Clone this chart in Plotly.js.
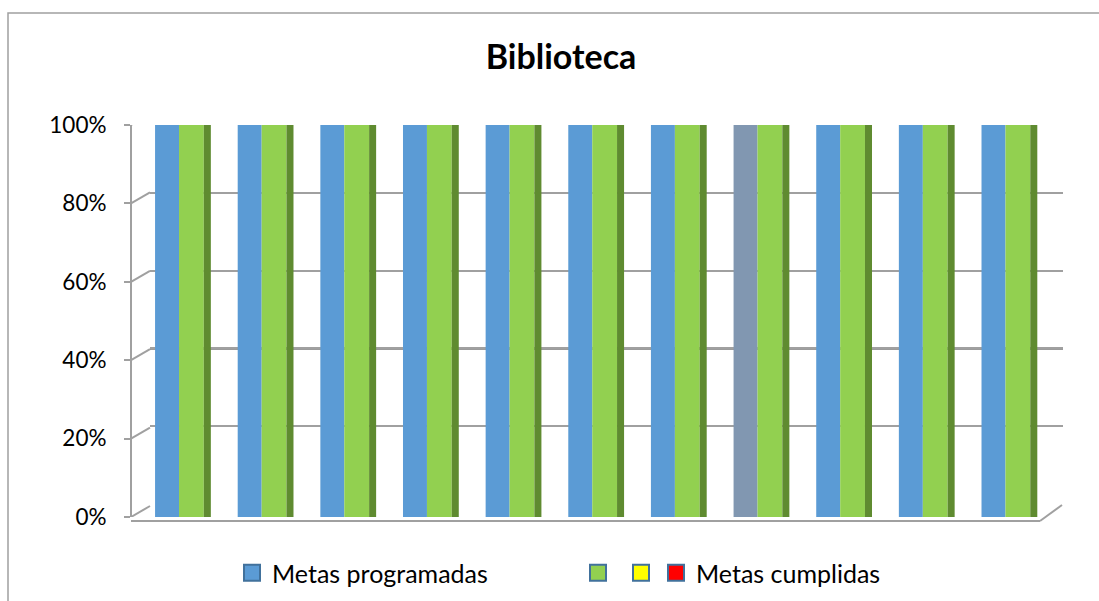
<!DOCTYPE html>
<html>
<head>
<meta charset="utf-8">
<script src="https://cdn.plot.ly/plotly-3.0.1.min.js"></script>
<style>html,body{margin:0;padding:0;background:#fff;}#chart{width:1099px;height:601px;}</style>
</head>
<body>
<div id="chart"></div>
<script>
// ---- data ----
const categories = ['1','2','3','4','5','6','7','8','9','10','11'];
const metasProgramadas = [1,1,1,1,1,1,1,1,1,1,1];
const metasCumplidas = [1,1,1,1,1,1,1,1,1,1,1];
const programadasColors = ['#5b9bd5','#5b9bd5','#5b9bd5','#5b9bd5','#5b9bd5','#5b9bd5','#5b9bd5','#8197b1','#5b9bd5','#5b9bd5','#5b9bd5'];
const yTickVals = [0, 0.2, 0.4, 0.6, 0.8, 1];
const yTickText = ['0%','20%','40%','60%','80%','100%'];
const legendNames = ['Metas programadas', '', '', 'Metas cumplidas'];
const legendColors = ['#5b9bd5', '#92d050', '#ffff00', '#ff0000'];
const legendIds = ['legend', 'legend2', 'legend3', 'legend4'];
const legendLeft = [232, 578, 621, 656];

// ---- layout helpers (pixel -> paper) ----
const W = 1099, H = 601;
const px = x => x / W;
const py = y => 1 - y / H;
const GRID = '#a0a0a0';
const FONT = 'Lato, "Open Sans", sans-serif';

const traces = [
  {type:'bar', x:categories, y:metasProgramadas, xaxis:'x2', yaxis:'y2',
   marker:{color:programadasColors}, offset:-0.29, width:0.29, showlegend:false, hoverinfo:'y'},
  {type:'bar', x:categories, y:metasCumplidas, xaxis:'x2', yaxis:'y2',
   marker:{color:'#92d050'}, offset:0, width:0.30, showlegend:false, hoverinfo:'y'},
  {type:'bar', x:categories, y:metasCumplidas, xaxis:'x2', yaxis:'y2',
   marker:{color:'#5f8b30'}, offset:0.30, width:0.085, showlegend:false, hoverinfo:'skip'}
];
legendNames.forEach((n, i) => {
  traces.push({type:'scatter', mode:'markers', x:[null], y:[null], xaxis:'x', yaxis:'y',
    name:n, legend:legendIds[i], showlegend:true,
    marker:{symbol:'square', size:16, color:legendColors[i], line:{color:'#41719c', width:2}}});
});

const shapes = [
  {type:'rect', xref:'paper', yref:'paper', x0:px(8), x1:px(1120), y0:py(13), y1:py(640),
   line:{color:'#a0a0a0', width:1.5}, layer:'below'},
  {type:'line', xref:'paper', yref:'paper', x0:px(131), x1:px(1040), y0:py(521), y1:py(521),
   line:{color:GRID, width:2}},
  {type:'line', xref:'paper', yref:'paper', x0:px(1040), x1:px(1062), y0:py(521), y1:py(505),
   line:{color:GRID, width:2}},
  // the 40% back-wall line is drawn darker in the reference
  {type:'line', xref:'x', yref:'y', x0:0, x1:1, y0:yTickVals[2], y1:yTickVals[2],
   line:{color:'#7a7a7a', width:2.5}, layer:'below'}
];
yTickVals.forEach(v => {
  shapes.push({type:'line', xref:'paper', yref:'y2', ysizemode:'pixel', yanchor:v,
    x0:px(131), x1:px(150), y0:0, y1:11, line:{color:GRID, width:2}, layer:'below'});
});

const legendBase = {orientation:'h', xanchor:'left', yanchor:'middle', y:py(573),
  bgcolor:'rgba(0,0,0,0)', font:{family:FONT, size:25, color:'#000'}, itemclick:false, itemdoubleclick:false};
const layout = {
  width:W, height:H, margin:{l:0, r:0, t:0, b:0},
  paper_bgcolor:'#fff', plot_bgcolor:'rgba(0,0,0,0)',
  barmode:'overlay',
  title:{text:'<b>Biblioteca</b>', x:px(561), xanchor:'center', xref:'container',
         y:py(57), yanchor:'middle', yref:'container', font:{family:FONT, size:34, color:'#000'}},
  xaxis:{domain:[px(150), px(1063)], range:[0,1], showgrid:false, zeroline:false,
         showticklabels:false, ticks:'', showline:false, fixedrange:true},
  yaxis:{domain:[py(505), py(114)], range:[-0.002, 1.002], tickvals:yTickVals, showticklabels:false,
         ticks:'', showgrid:true, gridcolor:GRID, gridwidth:2, zeroline:false,
         showline:false, fixedrange:true},
  xaxis2:{domain:[px(137.7), px(1046.8)], anchor:'y2', type:'category', range:[-0.5, 10.5],
          showticklabels:false, showgrid:false, zeroline:false, showline:false, ticks:'', fixedrange:true},
  yaxis2:{domain:[py(517), py(125)], anchor:'free', position:px(131), range:[0,1],
          tickvals:yTickVals, ticktext:yTickText, ticks:'outside', ticklen:6, tickwidth:2, tickcolor:GRID,
          showline:true, linecolor:GRID, linewidth:2, showgrid:false, zeroline:false,
          ticklabelstandoff:13, tickfont:{family:FONT, size:22.5, color:'#000'}, fixedrange:true},
  shapes:shapes,
  legend: Object.assign({}, legendBase, {x:px(legendLeft[0])}),
  legend2: Object.assign({}, legendBase, {x:px(legendLeft[1])}),
  legend3: Object.assign({}, legendBase, {x:px(legendLeft[2])}),
  legend4: Object.assign({}, legendBase, {x:px(legendLeft[3])}),
  showlegend:true
};
Plotly.newPlot('chart', traces, layout, {displayModeBar:false, staticPlot:true});
</script>
</body>
</html>
